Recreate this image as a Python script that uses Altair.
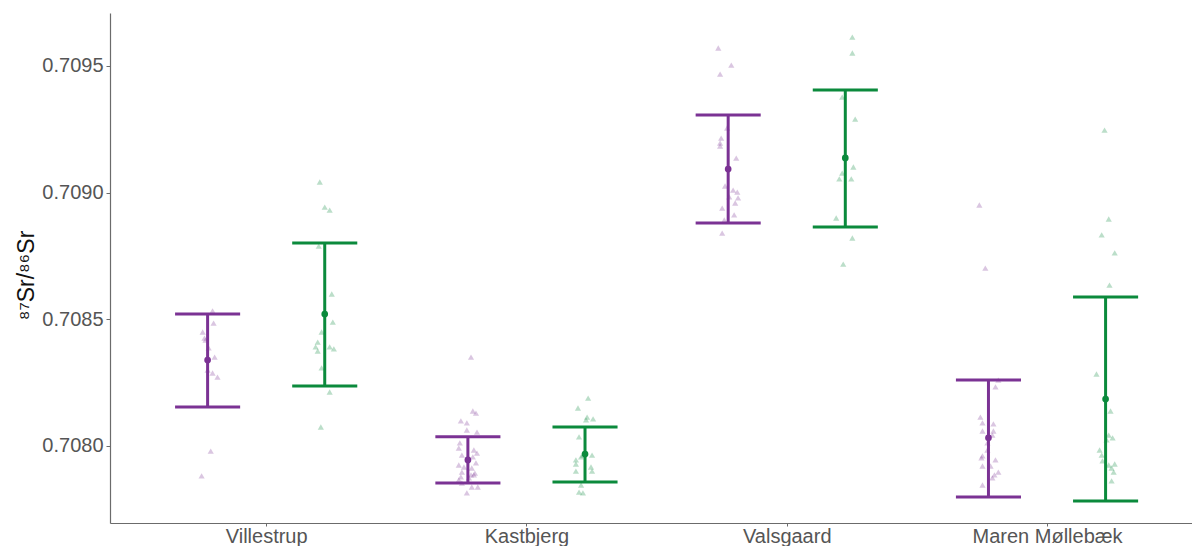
import altair as alt
import pandas as pd

# Sites along the x axis and the two series drawn at each site
SITES = ["Villestrup", "Kastbjerg", "Valsgaard", "Maren Møllebæk"]
GROUPS = ["A", "B"]
COLORS = ["#7B3294", "#0B8A3C"]

# Summary statistics (mean with lower / upper bar ends) per site
MEAN_A = [0.708339, 0.707945, 0.709093, 0.708032]
LOW_A = [0.708154, 0.707854, 0.708880, 0.707799]
HIGH_A = [0.708521, 0.708036, 0.709306, 0.708260]

MEAN_B = [0.708521, 0.707968, 0.709137, 0.708185]
LOW_B = [0.708237, 0.707858, 0.708864, 0.707783]
HIGH_B = [0.708801, 0.708075, 0.709405, 0.708588]

# Individual measurements with their horizontal jitter (in category units)
VILLESTRUP_A = [0.708533, 0.708485, 0.708450, 0.708426, 0.708418, 0.708387,
                0.708351, 0.708300, 0.708288, 0.708272, 0.707980, 0.707882]
VILLESTRUP_A_DX = [0.019, 0.023, -0.019, -0.012, -0.008, 0.004,
                   0.027, 0.0, 0.019, 0.038, 0.012, -0.023]
VILLESTRUP_B = [0.709042, 0.708943, 0.708931, 0.708789, 0.708600, 0.708489,
                0.708450, 0.708410, 0.708391, 0.708375, 0.708391, 0.708383,
                0.708308, 0.708213, 0.708075]
VILLESTRUP_B_DX = [-0.019, 0.0, 0.019, -0.023, 0.027, 0.031, -0.012, -0.027,
                   -0.035, -0.027, 0.019, 0.035, -0.012, 0.019, -0.015]

KASTBJERG_A = [0.708351, 0.708138, 0.708130, 0.708099, 0.708091, 0.708063,
               0.708055, 0.708012, 0.707992, 0.707984, 0.707972, 0.707964,
               0.707957, 0.707925, 0.707933, 0.707917, 0.707913, 0.707897,
               0.707893, 0.707878, 0.707886, 0.707866, 0.707874, 0.707886,
               0.707838, 0.707838, 0.707815, 0.707854]
KASTBJERG_A_DX = [0.012, 0.019, 0.031, -0.027, -0.004, -0.004, 0.035, -0.031,
                  -0.035, 0.023, 0.035, -0.023, 0.019, -0.035, 0.031, -0.015,
                  0.015, -0.023, 0.027, -0.027, 0.012, -0.035, 0.004, 0.023,
                  0.038, 0.015, -0.004, -0.023]
KASTBJERG_B = [0.708189, 0.708150, 0.708114, 0.708103, 0.708107, 0.708036,
               0.707957, 0.707945, 0.707964, 0.707929, 0.707917, 0.707901,
               0.707901, 0.707846, 0.707818, 0.707815, 0.707964]
KASTBJERG_B_DX = [0.012, -0.027, 0.008, 0.004, 0.031, -0.023, -0.015, -0.035,
                  0.027, -0.035, 0.023, 0.027, -0.035, -0.015, -0.023, -0.008,
                  -0.008]

VALSGAARD_A = [0.709571, 0.709503, 0.709468, 0.709255, 0.709215, 0.709196,
               0.709184, 0.709136, 0.709026, 0.709010, 0.709002, 0.708983,
               0.708979, 0.708959, 0.708939, 0.708912, 0.708892, 0.708840]
VALSGAARD_A_DX = [-0.038, 0.012, -0.031, -0.004, -0.027, -0.031, -0.031, 0.031,
                  -0.012, 0.019, 0.035, 0.004, 0.038, 0.027, -0.023, 0.023,
                  -0.015, -0.023]
VALSGAARD_B = [0.709614, 0.709551, 0.709377, 0.709290, 0.709101, 0.709077,
               0.709054, 0.709054, 0.708900, 0.708821, 0.708718]
VALSGAARD_B_DX = [0.027, 0.027, -0.012, 0.038, 0.031, -0.012, -0.023, 0.023,
                  -0.035, 0.027, -0.008]

MAREN_A = [0.708951, 0.708702, 0.708260, 0.708233, 0.708114, 0.708091,
           0.708087, 0.708059, 0.708059, 0.708043, 0.708012, 0.707961,
           0.707953, 0.707945, 0.707921, 0.707921, 0.707897, 0.707886,
           0.707874, 0.707846, 0.707984]
MAREN_A_DX = [-0.035, -0.012, 0.038, 0.027, -0.031, -0.023, 0.019, -0.023,
              0.019, 0.015, -0.004, -0.023, -0.027, 0.027, -0.023, 0.008,
              0.038, 0.023, 0.015, -0.023, -0.004]
MAREN_B = [0.709247, 0.708896, 0.708833, 0.708762, 0.708635, 0.708284,
           0.708138, 0.708043, 0.708032, 0.708024, 0.707984, 0.707964,
           0.707941, 0.707925, 0.707929, 0.707913, 0.707897, 0.707862]
MAREN_B_DX = [-0.004, 0.012, -0.015, 0.035, 0.015, -0.035, 0.019, 0.012,
              0.027, 0.004, -0.023, -0.015, -0.012, 0.012, 0.035, 0.023,
              0.031, 0.023]

DODGE = 0.225      # horizontal offset of each series from the site centre
CAP = 0.125        # half width of the error-bar caps

POINTS = {
    ("Villestrup", "A"): (VILLESTRUP_A, VILLESTRUP_A_DX),
    ("Villestrup", "B"): (VILLESTRUP_B, VILLESTRUP_B_DX),
    ("Kastbjerg", "A"): (KASTBJERG_A, KASTBJERG_A_DX),
    ("Kastbjerg", "B"): (KASTBJERG_B, KASTBJERG_B_DX),
    ("Valsgaard", "A"): (VALSGAARD_A, VALSGAARD_A_DX),
    ("Valsgaard", "B"): (VALSGAARD_B, VALSGAARD_B_DX),
    ("Maren Møllebæk", "A"): (MAREN_A, MAREN_A_DX),
    ("Maren Møllebæk", "B"): (MAREN_B, MAREN_B_DX),
}


def centre(site, group):
    return SITES.index(site) + 1 + (-DODGE if group == "A" else DODGE)


point_rows = []
for (site, group), (ys, dxs) in POINTS.items():
    for y, dx in zip(ys, dxs):
        point_rows.append({"site": site, "group": group,
                           "x": centre(site, group) + dx, "value": y})
points = pd.DataFrame(point_rows)

summary_rows = []
for group, means, lows, highs in [("A", MEAN_A, LOW_A, HIGH_A),
                                  ("B", MEAN_B, LOW_B, HIGH_B)]:
    for site, m, lo, hi in zip(SITES, means, lows, highs):
        c = centre(site, group)
        summary_rows.append({"site": site, "group": group, "x": c,
                             "xl": c - CAP, "xr": c + CAP,
                             "mean": m, "low": lo, "high": hi})
summary = pd.DataFrame(summary_rows)

color = alt.Color("group:N", scale=alt.Scale(domain=GROUPS, range=COLORS),
                  legend=None)

label_expr = "[" + ",".join(f"'{s}'" for s in SITES) + "][datum.value - 1]"
x_axis = alt.Axis(values=[1, 2, 3, 4], labelExpr=label_expr, title=None,
                  grid=False, tickSize=3, labelPadding=0)
y_axis = alt.Axis(values=[0.708, 0.7085, 0.709, 0.7095], format=".4f",
                  grid=False, title="⁸⁷Sr/⁸⁶Sr", titleAngle=270,
                  titleX=-84, titleY=262, titleAlign="center",
                  titleBaseline="middle", titleFontSize=23,
                  titleFontWeight="normal", titleColor="#111111",
                  titleFont="Liberation Sans", tickSize=4, labelPadding=3)
x_scale = alt.Scale(domain=[0.4, 4.557], nice=False, zero=False)
y_scale = alt.Scale(domain=[0.707696, 0.709709], nice=False, zero=False)

pts = alt.Chart(points).mark_point(
    shape="triangle-up", filled=True, opacity=0.28, size=38
).encode(
    x=alt.X("x:Q", scale=x_scale, axis=x_axis),
    y=alt.Y("value:Q", scale=y_scale, axis=y_axis),
    color=color,
)

stem = alt.Chart(summary).mark_rule(strokeWidth=3).encode(
    x=alt.X("x:Q", scale=x_scale, axis=x_axis),
    y=alt.Y("low:Q", scale=y_scale, axis=y_axis),
    y2="high:Q",
    color=color,
)

cap_low = alt.Chart(summary).mark_rule(strokeWidth=3).encode(
    x=alt.X("xl:Q", scale=x_scale, axis=x_axis),
    x2="xr:Q",
    y=alt.Y("low:Q", scale=y_scale, axis=y_axis),
    color=color,
)

cap_high = alt.Chart(summary).mark_rule(strokeWidth=3).encode(
    x=alt.X("xl:Q", scale=x_scale, axis=x_axis),
    x2="xr:Q",
    y=alt.Y("high:Q", scale=y_scale, axis=y_axis),
    color=color,
)

means = alt.Chart(summary).mark_circle(size=45, opacity=1).encode(
    x=alt.X("x:Q", scale=x_scale, axis=x_axis),
    y=alt.Y("mean:Q", scale=y_scale, axis=y_axis),
    color=color,
)

chart = alt.layer(pts, stem, cap_low, cap_high, means).properties(
    width=1082,
    height=510,
    autosize=alt.AutoSizeParams(type="none"),
    padding={"left": 110, "top": 13, "right": 0, "bottom": 23},
).configure_view(
    stroke=None
).configure_axis(
    labelFont="Liberation Sans",
    labelFontSize=20,
    labelColor="#555555",
    domainColor="#6b6b6b",
    domainWidth=1.2,
    tickColor="#6b6b6b",
)

chart.save("out.html", embed_options={"renderer": "svg", "actions": False})
